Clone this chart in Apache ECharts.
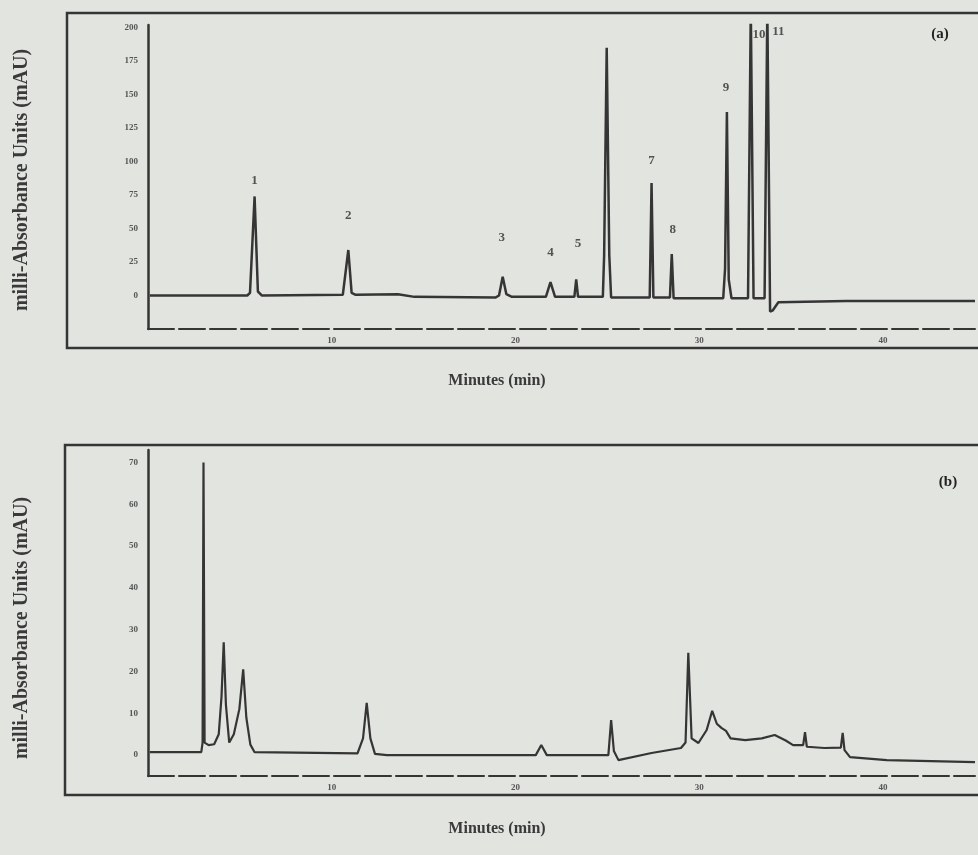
<!DOCTYPE html>
<html>
<head>
<meta charset="utf-8">
<script src="https://cdn.jsdelivr.net/npm/echarts@6/dist/echarts.min.js"></script>
<style>
  html, body { margin: 0; padding: 0; background: #e2e4e0; }
  #chart { width: 978px; height: 855px; }
</style>
</head>
<body>
<div id="chart"></div>
<script>
// tick labels
const xTicks = [10, 20, 30, 40]
const yTicksA = [0, 25, 50, 75, 100, 125, 150, 175, 200]
const yTicksB = [0, 10, 20, 30, 40, 50, 60, 70]

// panel (a) trace, minutes / mAU
const aTimes = [0.1, 5.4, 5.55, 5.8, 5.98, 6.2, 10.6, 10.9, 11.08, 11.3, 13.6, 14.5, 18.9, 19.1, 19.3, 19.5, 19.8,
  21.65, 21.9, 22.15, 23.2, 23.3, 23.4, 24.75, 24.82, 24.96, 25.1, 25.2, 27.3, 27.4, 27.5, 28.4, 28.5, 28.6,
  31.3, 31.4, 31.5, 31.6, 31.75, 32.65, 32.8, 32.95, 33.55, 33.7, 33.85, 34.0, 34.3, 38, 45]
const aValues = [0, 0, 2, 74, 3, 0, 0.5, 34, 2, 0.5, 1, -1, -1.5, 0, 14, 1, -1,
  -1, 10, -1, -1, 12, -1, -1, 30, 185, 30, -1.5, -1.5, 84, -1.5, -1.5, 31, -2,
  -2, 20, 137, 12, -2, -2, 215, -2, -2, 215, -12, -11, -5, -4, -4]

// panel (a) peak numbers
const aPeakNames = ['1', '2', '3', '4', '5', '7', '8', '9', '10', '11']
const aPeakTimes = [5.8, 10.9, 19.25, 21.9, 23.4, 27.4, 28.55, 31.45, 33.25, 34.3]
const aPeakLabelValues = [86, 60, 43, 32, 39, 101, 49, 155, 195, 197]

// panel (b) trace
const bTimes = [0.1, 2.9, 2.97, 3.02, 3.08, 3.3, 3.6, 3.85, 4.0, 4.12, 4.24, 4.42, 4.67, 4.97, 5.18, 5.35, 5.57, 5.8,
  11.4, 11.7, 11.9, 12.1, 12.35, 13, 21.1, 21.4, 21.7, 25.05, 25.2, 25.35, 25.6, 27.4, 29.0, 29.25, 29.4, 29.58,
  29.95, 30.4, 30.7, 30.95, 31.2, 31.45, 31.7, 32.5, 33.4, 34.1, 34.7, 35.1, 35.65, 35.75, 35.85, 36.8, 37.7,
  37.8, 37.9, 38.2, 40.2, 45]
const bValues = [0.7, 0.7, 3, 70, 3, 2.4, 2.6, 5, 14, 27, 12, 3, 5, 11, 20.5, 9, 2.5, 0.7,
  0.4, 4, 12.5, 4, 0.3, 0, 0, 2.4, 0, 0, 8.4, 1, -1.2, 0.5, 1.7, 3, 24.5, 4,
  2.9, 6, 10.6, 7.5, 6.5, 5.8, 4, 3.6, 4, 4.8, 3.5, 2.4, 2.4, 5.5, 2, 1.7, 1.8,
  5.3, 1.2, -0.5, -1.2, -1.7]

const ink = '#353535'
const serif = 'Liberation Serif'

function pairs(xs, ys) {
  return xs.map((x, i) => [x, ys[i]])
}

function xAxisConf(gridIndex) {
  return {
    type: 'value',
    gridIndex,
    min: 0,
    max: 45,
    interval: 10,
    splitLine: { show: false },
    axisTick: { show: false },
    axisLine: { show: true, onZero: false, lineStyle: { color: ink, width: 2, type: [26, 5] } },
    axisLabel: {
      margin: 7,
      fontFamily: serif,
      fontSize: 9,
      fontWeight: 'bold',
      color: '#555',
      formatter: (v) => (xTicks.includes(v) ? String(v) : ''),
    },
  }
}

function yAxisConf(gridIndex, min, max, interval, ticks) {
  return {
    type: 'value',
    gridIndex,
    min,
    max,
    interval,
    splitLine: { show: false },
    axisTick: { show: false },
    axisLine: { show: true, onZero: false, lineStyle: { color: ink, width: 2.5 } },
    axisLabel: {
      margin: 10,
      fontFamily: serif,
      fontSize: 9,
      fontWeight: 'bold',
      color: '#555',
      formatter: (v) => (ticks.includes(v) ? String(v) : ''),
    },
  }
}

function titleText(x, y, text, rotate) {
  return {
    type: 'text',
    x,
    y,
    rotation: rotate ? Math.PI / 2 : 0,
    style: {
      text,
      fontFamily: serif,
      fontSize: rotate ? 20 : 16,
      fontWeight: 'bold',
      fill: '#3a3a3a',
      align: 'center',
      verticalAlign: 'middle',
    },
  }
}

const chart = echarts.init(document.getElementById('chart'))
chart.setOption({
  backgroundColor: '#e2e4e0',
  animation: false,
  grid: [
    { left: 148, top: 25, width: 831, height: 304 },
    { left: 148, top: 450, width: 841, height: 326 },
  ],
  xAxis: [xAxisConf(0), xAxisConf(1)],
  yAxis: [
    yAxisConf(0, -25, 202, 25, yTicksA),
    yAxisConf(1, -5, 73, 5, yTicksB),
  ],
  series: [
    {
      type: 'line',
      xAxisIndex: 0,
      yAxisIndex: 0,
      data: pairs(aTimes, aValues),
      showSymbol: false,
      lineStyle: { color: ink, width: 2.5 },
      clip: true,
    },
    {
      type: 'scatter',
      xAxisIndex: 0,
      yAxisIndex: 0,
      symbolSize: 0,
      data: aPeakTimes.map((t, i) => ({ value: [t, aPeakLabelValues[i]], name: aPeakNames[i] })),
      label: {
        show: true,
        position: 'inside',
        formatter: (p) => p.name,
        fontFamily: serif,
        fontSize: 13,
        fontWeight: 'bold',
        color: '#2e2e2e',
      },
    },
    {
      type: 'line',
      xAxisIndex: 1,
      yAxisIndex: 1,
      data: pairs(bTimes, bValues),
      showSymbol: false,
      lineStyle: { color: ink, width: 2.2 },
      clip: true,
    },
  ],
  graphic: [
    { type: 'rect', shape: { x: 67, y: 13, width: 940, height: 335 }, style: { fill: null, stroke: ink, lineWidth: 2.5 } },
    { type: 'rect', shape: { x: 65, y: 445, width: 940, height: 350 }, style: { fill: null, stroke: ink, lineWidth: 2.5 } },
    titleText(497, 381, 'Minutes (min)', false),
    titleText(497, 829, 'Minutes (min)', false),
    titleText(22, 180, 'milli-Absorbance Units (mAU)', true),
    titleText(22, 628, 'milli-Absorbance Units (mAU)', true),
    {
      type: 'text', x: 940, y: 34,
      style: { text: '(a)', fontFamily: serif, fontSize: 15, fontWeight: 'bold', fill: '#222', align: 'center', verticalAlign: 'middle' },
    },
    {
      type: 'text', x: 948, y: 482,
      style: { text: '(b)', fontFamily: serif, fontSize: 15, fontWeight: 'bold', fill: '#222', align: 'center', verticalAlign: 'middle' },
    },
  ],
})
</script>
</body>
</html>
